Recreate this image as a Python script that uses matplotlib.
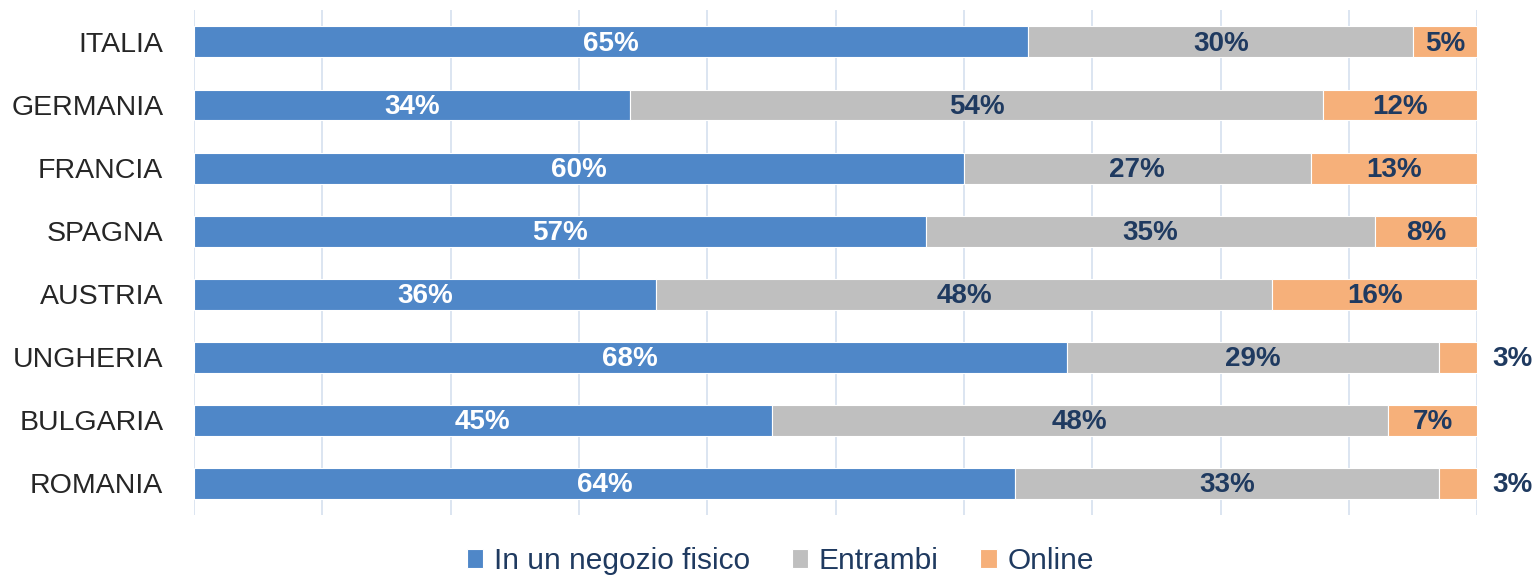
import numpy as np
import matplotlib
matplotlib.use('Agg')
import matplotlib.pyplot as plt

# dati (quote percentuali per paese)
paesi = ['ITALIA', 'GERMANIA', 'FRANCIA', 'SPAGNA', 'AUSTRIA', 'UNGHERIA', 'BULGARIA', 'ROMANIA']
negozio = [65, 34, 60, 57, 36, 68, 45, 64]
entrambi = [30, 54, 27, 35, 48, 29, 48, 33]
online = [5, 12, 13, 8, 16, 3, 7, 3]

serie = ['In un negozio fisico', 'Entrambi', 'Online']
colori = ['#4F87C8', '#BFBFBF', '#F6B07A']
col_testo = ['white', '#1F3A60', '#1F3A60']

plt.rcParams['font.family'] = ['Liberation Sans', 'DejaVu Sans']

fig = plt.figure(figsize=(15.39, 5.76), dpi=100)
ax = fig.add_axes([0.126, 0.106, 0.834, 0.876])

y = np.arange(len(paesi))
sinistra = np.zeros(len(paesi))
for k, valori in enumerate([negozio, entrambi, online]):
    v = np.array(valori) / 100.0
    ax.barh(y, v, left=sinistra, height=0.49, color=colori[k], edgecolor='white',
            linewidth=0.8, label=serie[k], zorder=3)
    for i in range(len(paesi)):
        testo = str(valori[i]) + '%'
        if valori[i] < 5:
            # etichetta fuori dalla barra
            ax.text(1.0 + 0.027, y[i] + 0.03, testo, ha='center', va='center', fontweight='bold',
                    fontsize=20, color='#1F3A60', clip_on=False)
        else:
            ax.text(sinistra[i] + v[i] / 2, y[i] + 0.03, testo, ha='center', va='center',
                    fontweight='bold', fontsize=20, color=col_testo[k], zorder=4)
    sinistra = sinistra + v

ax.set_xlim(0, 1)
ax.set_ylim(len(paesi) - 0.5, -0.5)
ax.set_xticks(np.arange(0, 1.01, 0.1))
ax.set_xticklabels([])
ax.tick_params(axis='x', length=0)
ax.tick_params(axis='y', length=0, pad=22)
ax.set_yticks(y)
ax.set_yticklabels(paesi, fontsize=20.5, color='#262626')
ax.grid(axis='x', color='#D9E3F0', linewidth=1.3, zorder=0)
for s in ax.spines.values():
    s.set_visible(False)

fig.legend(loc='center', bbox_to_anchor=(0.507, 0.026), ncol=3, frameon=False,
           handlelength=0.55, handleheight=0.62, handletextpad=0.35,
           columnspacing=1.4, labelcolor='#1F3A60', fontsize=21.5)

plt.savefig('out.png', dpi=100)
